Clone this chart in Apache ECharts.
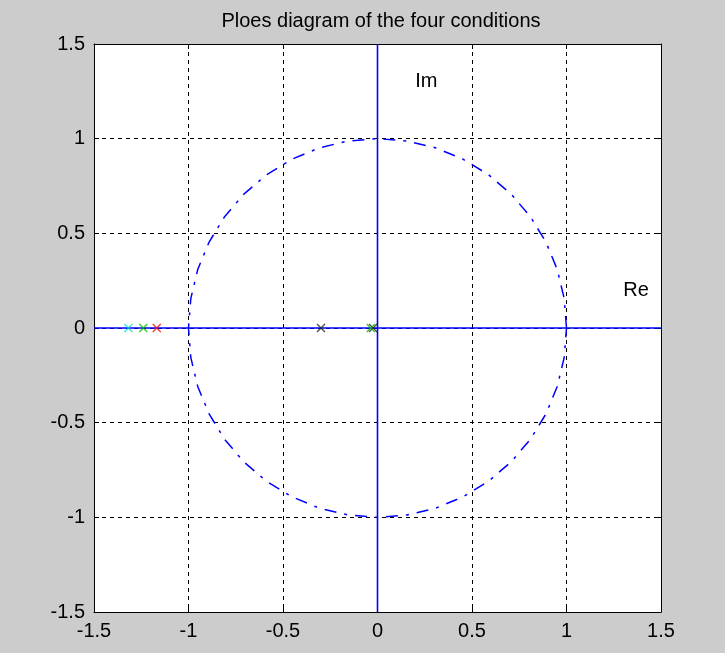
<!DOCTYPE html>
<html>
<head>
<meta charset="utf-8">
<script src="https://cdn.jsdelivr.net/npm/echarts@6/dist/echarts.min.js"></script>
<style>
html,body{margin:0;padding:0;background:#cccccc;}
#c{width:725px;height:653px;}
</style>
</head>
<body>
<div id="c"></div>
<script>
// Data
var titleText = 'Ploes diagram of the four conditions';
var axisMin = -1.5, axisMax = 1.5, axisStep = 0.5;
var polesCyan  = [[-1.318, 0]];
var polesGreen = [[-1.239, 0], [-0.036, 0]];
var polesRed   = [[-1.168, 0]];
var polesBlack = [[-0.299, 0], [-0.024, 0]];
var reAxisLine = [[-1.5, 0], [1.5, 0]];
var imAxisLine = [[0, -1.5], [0, 1.5]];
var textLabels = [{name: 'Im', value: [0.2, 1.3]}, {name: 'Re', value: [1.3, 0.2]}];
// unit circle (|z| = 1), sampled coarsely as in the original plot
var circleSteps = 40;
var unitCircle = [];
for (var i = 0; i <= circleSteps; i++) {
  var t = 2 * Math.PI * i / circleSteps;
  unitCircle.push([Math.cos(t), Math.sin(t)]);
}

var FONT = '"Liberation Sans", Arial, sans-serif';
var crossPath = 'path://M0,0L10,10M10,0L0,10';

function poleSeries(data, color) {
  return {
    type: 'scatter', data: data, symbol: crossPath, symbolSize: 8,
    itemStyle: {color: 'transparent', borderColor: color, borderWidth: 1.3},
    z: 5, silent: true
  };
}

var baseAxis = {
  min: axisMin, max: axisMax, interval: axisStep,
  axisLine: {show: true, onZero: false, lineStyle: {color: '#000', width: 1}},
  axisTick: {show: true, inside: true, length: 5, lineStyle: {color: '#000'}},
  splitLine: {show: false}
};

var chart = echarts.init(document.getElementById('c'), null, {renderer: 'canvas'});
chart.setOption({
  animation: false,
  backgroundColor: '#cccccc',
  title: {
    text: titleText, left: 376, top: 6, textAlign: 'center',
    textStyle: {fontFamily: FONT, fontSize: 20, fontWeight: 'normal', color: '#000'}
  },
  grid: {left: 94, right: 64, top: 44, bottom: 41, show: true, backgroundColor: '#ffffff', borderWidth: 0},
  xAxis: [
    Object.assign({}, baseAxis, {
      type: 'value', position: 'bottom',
      axisLabel: {fontFamily: FONT, fontSize: 20, color: '#000', margin: 9},
      splitLine: {show: true, lineStyle: {color: '#000', type: [4, 4], width: 1}}
    }),
    Object.assign({}, baseAxis, {type: 'value', position: 'top', axisLabel: {show: false}})
  ],
  yAxis: [
    Object.assign({}, baseAxis, {
      type: 'value', position: 'left',
      axisLabel: {fontFamily: FONT, fontSize: 20, color: '#000', margin: 9},
      splitLine: {show: true, lineStyle: {color: '#000', type: [4, 4], width: 1}}
    }),
    Object.assign({}, baseAxis, {type: 'value', position: 'right', axisLabel: {show: false}})
  ],
  series: [
    {type: 'line', data: reAxisLine, showSymbol: false, lineStyle: {color: '#0000ff', width: 1.6}, z: 3, silent: true},
    {type: 'line', data: imAxisLine, showSymbol: false, lineStyle: {color: '#0000ff', width: 1.6}, z: 3, silent: true},
    {type: 'line', data: unitCircle, showSymbol: false, smooth: false,
     lineStyle: {color: '#0000ff', width: 1.5, type: [12, 8, 3, 8]}, z: 3, silent: true},
    poleSeries(polesBlack, '#222222'),
    poleSeries(polesCyan, '#00dddd'),
    poleSeries(polesGreen, '#00bb00'),
    poleSeries(polesRed, '#ee0000'),
    {type: 'scatter', data: textLabels, symbolSize: 0, silent: true, z: 6,
     itemStyle: {opacity: 1},
     label: {show: true, position: 'right', distance: 0, formatter: '{b}',
             fontFamily: FONT, fontSize: 20, color: '#000000', opacity: 1, textBorderWidth: 0}}
  ]
});
</script>
</body>
</html>
